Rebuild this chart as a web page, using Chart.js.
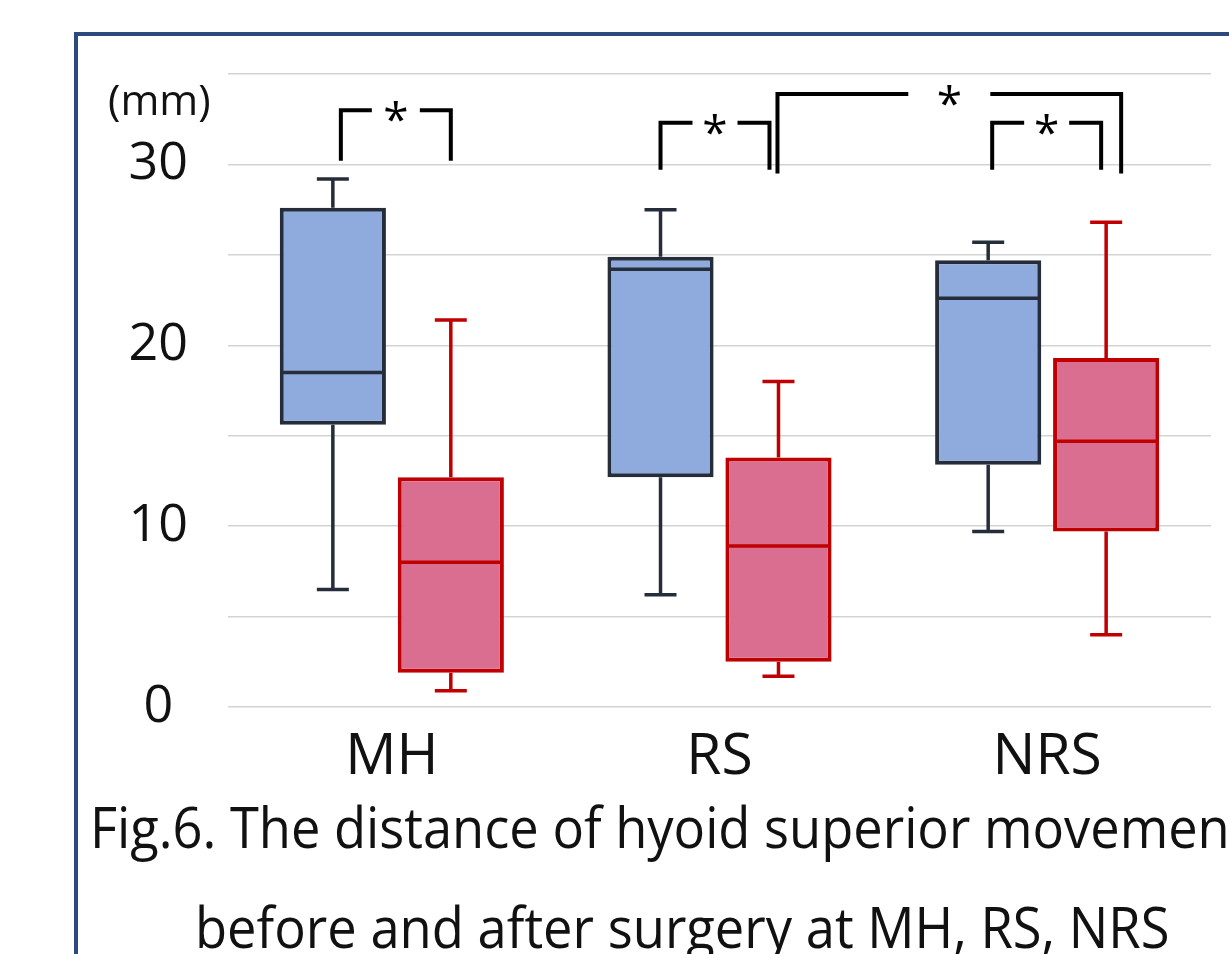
<!DOCTYPE html>
<html>
<head>
    <title>Fig.6 hyoid superior movement</title>
    <script src="https://cdn.jsdelivr.net/npm/chart.js"></script>
    <style>
        body {margin: 0; background: #fff; overflow: hidden; font-family: "Open Sans", sans-serif;}
        #frame {position: absolute; left: 74px; top: 32px; width: 1300px; height: 1000px; border: 4px solid #2E4A7D; box-sizing: border-box;}
        #chartBox {position: absolute; left: 0; top: 0; width: 1229px; height: 800px;}
        #unit {position: absolute; left: 108px; top: 78px; font-size: 42px; line-height: 42px; color: #111;}
        .cap {position: absolute; font-size: 56px; line-height: 100px; color: #111; white-space: nowrap; transform-origin: left top;}
    </style>
</head>
<body>
    <div id="frame"></div>
    <div id="chartBox"><canvas id="myChart"></canvas></div>
    <div id="unit">(mm)</div>
    <div class="cap" id="cap1" style="left: 90px; top: 776px;">Fig.6. The distance of hyoid superior movement</div>
    <div class="cap" id="cap2" style="left: 195px; top: 876px;">before and after surgery at MH, RS, NRS</div>
    <script>
        var categories = ['MH', 'RS', 'NRS'];

        // before surgery (blue)
        var beforeMin    = [6.5, 6.2, 9.7];
        var beforeQ1     = [15.6, 12.7, 13.4];
        var beforeMedian = [18.5, 24.2, 22.6];
        var beforeQ3     = [27.6, 24.9, 24.7];
        var beforeMax    = [29.2, 27.5, 25.7];

        // after surgery (red)
        var afterMin    = [0.9, 1.7, 4.0];
        var afterQ1     = [1.9, 2.5, 9.7];
        var afterMedian = [8.0, 8.9, 14.7];
        var afterQ3     = [12.7, 13.8, 19.3];
        var afterMax    = [21.4, 18.0, 26.8];

        var yTicks = [0, 10, 20, 30];

        var groups = [
            {min: beforeMin, q1: beforeQ1, med: beforeMedian, q3: beforeQ3, max: beforeMax, fill: '#8FAADC', line: '#252D3A'},
            {min: afterMin, q1: afterQ1, med: afterMedian, q3: afterQ3, max: afterMax, fill: '#DA6E91', line: '#C00000'}
        ];

        // significance marks: [dataset, index, dx] for each end, low/high y value
        var brackets = [
            {a: [0, 0, 8], b: [1, 0, 0], low: 30.2, high: 33.0, gap: 48},
            {a: [0, 1, 0], b: [1, 1, -9], low: 29.7, high: 32.3, gap: 45},
            {a: [1, 1, -1], b: [1, 2, 15], low: 29.5, high: 33.9, gap: 82},
            {a: [0, 2, 4], b: [1, 2, -5], low: 29.7, high: 32.3, gap: 45}
        ];

        var whiskerPlugin = {
            id: 'whiskers',
            afterDatasetsDraw: function(chart) {
                var ctx = chart.ctx, y = chart.scales.y;
                ctx.save();
                ctx.lineWidth = 3.5;
                groups.forEach(function(g, di) {
                    chart.getDatasetMeta(di).data.forEach(function(bar, i) {
                        var x = bar.x, hw = bar.width / 2 - 2;
                        var yMax = y.getPixelForValue(g.max[i]), yMin = y.getPixelForValue(g.min[i]);
                        ctx.strokeStyle = g.line;
                        ctx.beginPath();
                        ctx.moveTo(x, y.getPixelForValue(g.q3[i]));
                        ctx.lineTo(x, yMax);
                        ctx.moveTo(x - 16, yMax);
                        ctx.lineTo(x + 16, yMax);
                        ctx.moveTo(x, y.getPixelForValue(g.q1[i]));
                        ctx.lineTo(x, yMin);
                        ctx.moveTo(x - 16, yMin);
                        ctx.lineTo(x + 16, yMin);
                        ctx.moveTo(x - hw, y.getPixelForValue(g.med[i]));
                        ctx.lineTo(x + hw, y.getPixelForValue(g.med[i]));
                        ctx.stroke();
                    });
                });

                ctx.strokeStyle = '#000';
                ctx.fillStyle = '#000';
                ctx.lineWidth = 4;
                ctx.font = '46px "Open Sans"';
                ctx.textAlign = 'center';
                ctx.textBaseline = 'alphabetic';
                brackets.forEach(function(br) {
                    var x1 = chart.getDatasetMeta(br.a[0]).data[br.a[1]].x + br.a[2];
                    var x2 = chart.getDatasetMeta(br.b[0]).data[br.b[1]].x + br.b[2];
                    var yl = y.getPixelForValue(br.low), yh = y.getPixelForValue(br.high);
                    var mid = (x1 + x2) / 2;
                    ctx.beginPath();
                    ctx.moveTo(x1, yl);
                    ctx.lineTo(x1, yh);
                    ctx.lineTo(mid - br.gap / 2, yh);
                    ctx.moveTo(mid + br.gap / 2, yh);
                    ctx.lineTo(x2, yh);
                    ctx.lineTo(x2, yl);
                    ctx.stroke();
                    ctx.fillText('*', mid, yh + 26);
                });
                ctx.restore();
            }
        };

        var ctx = document.getElementById('myChart').getContext('2d');
        new Chart(ctx, {
            type: 'bar',
            data: {
                labels: categories,
                datasets: groups.map(function(g) {
                    return {
                        data: g.q1.map(function(v, i) { return [v, g.q3[i]]; }),
                        backgroundColor: g.fill,
                        borderColor: g.line,
                        borderWidth: 4,
                        borderSkipped: false,
                        categoryPercentage: 0.72,
                        barPercentage: 0.9
                    };
                })
            },
            options: {
                responsive: true,
                maintainAspectRatio: false,
                animation: false,
                layout: {padding: {left: 0, right: 18, top: 74, bottom: 0}},
                plugins: {legend: {display: false}, tooltip: {enabled: false}},
                scales: {
                    x: {
                        grid: {display: false},
                        border: {display: false},
                        ticks: {color: '#111', padding: 9, font: {family: 'Open Sans', size: 57}},
                        afterFit: function(s) { s.height = 93; }
                    },
                    y: {
                        min: 0,
                        max: 35,
                        grid: {color: '#d3d3d3', lineWidth: 1.5, drawTicks: false},
                        border: {display: false},
                        ticks: {
                            stepSize: 5,
                            color: '#111',
                            padding: 40,
                            crossAlign: 'center',
                            font: {family: 'Open Sans', size: 52},
                            callback: function(v) { return yTicks.indexOf(v) >= 0 ? v : ''; }
                        },
                        afterFit: function(s) { s.width = 228; }
                    }
                }
            },
            plugins: [whiskerPlugin]
        });

        // squeeze caption lines to the reference widths
        function fitWidth(id, w) {
            var el = document.getElementById(id);
            el.style.transform = 'scaleX(' + (w / el.offsetWidth) + ')';
        }
        fitWidth('cap1', 1158);
        fitWidth('cap2', 975);
    </script>
</body>
</html>
